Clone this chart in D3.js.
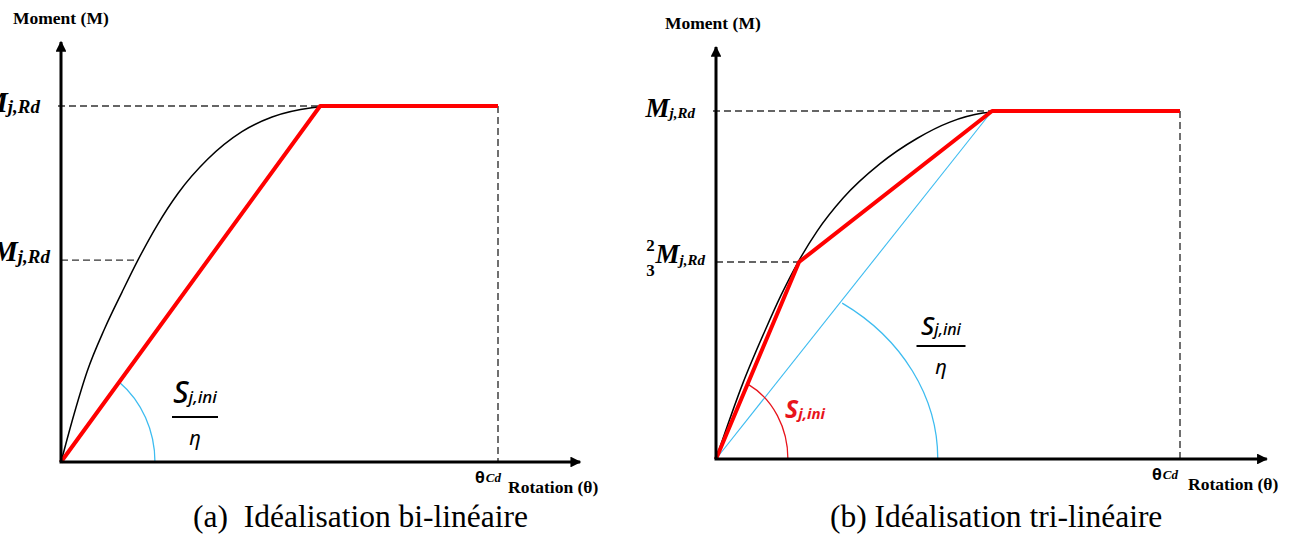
<!DOCTYPE html>
<html><head><meta charset="utf-8">
<script src="https://cdn.jsdelivr.net/npm/d3@7"></script>
<style>
html,body{margin:0;padding:0;background:#fff;}
svg{display:block;}
</style></head>
<body>
<svg id="chart" width="1300" height="536"></svg>
<script>
// ---------- data (normalised: rotation / θCd, moment / Mj,Rd) ----------
const mjrd = 1;
const thetaCd = 1;
const leftLevel23 = 0.567;
const rightLevel23 = 0.566;

const leftCurveX = [0, 0.03, 0.06, 0.10, 0.14, 0.176, 0.22, 0.268, 0.336, 0.414, 0.483, 0.574, 0.627];
const leftCurveM = [0, 0.135, 0.255, 0.375, 0.478, 0.567, 0.665, 0.755, 0.851, 0.928, 0.969, 0.995, 1.0];
const leftIdeal = [[0,0],[0.593,1],[1,1]];

const rightCurveX = [0, 0.058, 0.106, 0.14, 0.177, 0.218, 0.274, 0.353, 0.433, 0.504, 0.575, 0.634];
const rightCurveM = [0, 0.218, 0.37, 0.47, 0.566, 0.655, 0.75, 0.848, 0.921, 0.968, 0.994, 1.0];
const rightIdeal = [[0,0],[0.179,0.566],[0.595,1],[1,1]];
const rightSecant = [[0,0],[0.595,1]];

// angle arcs: start point on the line, end on the rotation axis
const leftArcs = [{start:[0.133,0.225], end:0.215, color:"#3dbcf0"}];
const rightArcs = [{start:[0.071,0.213], end:0.155, color:"#e8141c"},
                   {start:[0.272,0.448], end:0.478, color:"#3dbcf0"}];

const yTickLabels = ["M", "j,Rd"];
const captions = ["(a)  Idéalisation bi-linéaire", "(b) Idéalisation tri-linéaire"];

// ---------- drawing ----------
const svg = d3.select("#chart");
const serif = "Liberation Serif, Times New Roman, serif";
const sans = "Noto Sans, Open Sans, sans-serif";
const zip = (xs, ms) => xs.map((v, i) => [v, ms[i]]);

const panels = [
  {x: d3.scaleLinear().domain([0,1]).range([61,498]), y: d3.scaleLinear().domain([0,1]).range([462,106]),
   xMax:1.188, yMax:1.18, curve:zip(leftCurveX,leftCurveM), ideal:leftIdeal, secant:null, level23:leftLevel23,
   dash23End:0.175, dashTopEnd:0.593, arcs:leftArcs, caption:captions[0], capX:193,
   momentX:13, momentY:24, labelEnd:40, label23End:50, mSize:29, subSize:19, topDy:6,
   frac:{x:195,yn:403,yl:417,yd:445,w:46,s:30,sub:17},
   redS:null, thetaX:475, rotX:508},
  {x: d3.scaleLinear().domain([0,1]).range([716,1180]), y: d3.scaleLinear().domain([0,1]).range([459,111]),
   xMax:1.187, yMax:1.184, curve:zip(rightCurveX,rightCurveM), ideal:rightIdeal, secant:rightSecant, level23:rightLevel23,
   dash23End:0.179, dashTopEnd:0.595, arcs:rightArcs, caption:captions[1], capX:830,
   momentX:665, momentY:29, labelEnd:695, label23End:705, mSize:27, subSize:15, topDy:6,
   frac:{x:941,yn:335,yl:346,yd:374,w:49,s:26,sub:16},
   redS:{x:785,y:418}, thetaX:1152, rotX:1188}
];

const defs = svg.append("defs");
defs.append("marker").attr("id","arrow").attr("viewBox","0 0 10 10").attr("refX",9).attr("refY",5)
  .attr("markerWidth",4.2).attr("markerHeight",3.6).attr("markerUnits","strokeWidth").attr("orient","auto")
  .append("path").attr("d","M0,0 L10,5 L0,10 Z").attr("fill","#000");

panels.forEach(p => {
  const g = svg.append("g");
  const x = p.x, y = p.y;
  const line = d3.line().x(d => x(d[0])).y(d => y(d[1]));

  // dashed guides
  const dash = g.append("g").attr("stroke","#333").attr("stroke-width",1.4).attr("stroke-dasharray","7,4").attr("fill","none");
  dash.append("line").attr("x1",x(0)-3).attr("x2",x(p.dashTopEnd)).attr("y1",y(mjrd)).attr("y2",y(mjrd));
  dash.append("line").attr("x1",x(0)).attr("x2",x(p.dash23End)).attr("y1",y(p.level23)).attr("y2",y(p.level23));
  dash.append("line").attr("x1",x(thetaCd)).attr("x2",x(thetaCd)).attr("y1",y(mjrd)).attr("y2",y(0));

  // secant (blue)
  if (p.secant) g.append("path").attr("d",line(p.secant)).attr("fill","none").attr("stroke","#3dbcf0").attr("stroke-width",1.1);

  // arcs
  p.arcs.forEach(a => {
    const ox = x(0), oy = y(0);
    const sx = x(a.start[0]), sy = y(a.start[1]);
    const ex = x(a.end), ey = y(0);
    const rx = ex - ox;
    const dx = sx - ox, dy = oy - sy;
    const ry = dy / Math.sqrt(Math.max(0.01, 1 - (dx/rx)*(dx/rx)));
    g.append("path").attr("d",`M${sx},${sy} A${rx},${ry} 0 0 1 ${ex},${ey}`)
      .attr("fill","none").attr("stroke",a.color).attr("stroke-width",1.3);
  });

  // actual curve
  g.append("path").attr("d",d3.line().x(d => x(d[0])).y(d => y(d[1])).curve(d3.curveMonotoneX)(p.curve))
    .attr("fill","none").attr("stroke","#000").attr("stroke-width",1.5);
  // idealisation
  g.append("path").attr("d",line(p.ideal)).attr("fill","none")
    .attr("stroke","#f00").attr("stroke-width",4).attr("stroke-linejoin","round");

  // axes
  g.append("line").attr("x1",x(0)).attr("y1",y(0)).attr("x2",x(0)).attr("y2",y(p.yMax))
    .attr("stroke","#000").attr("stroke-width",3).attr("marker-end","url(#arrow)");
  g.append("line").attr("x1",x(0)-1.5).attr("y1",y(0)).attr("x2",x(p.xMax)).attr("y2",y(0))
    .attr("stroke","#000").attr("stroke-width",3).attr("marker-end","url(#arrow)");

  // axis titles
  g.append("text").attr("x",p.momentX).attr("y",p.momentY).attr("font-family",serif).attr("font-weight","bold")
    .attr("font-size",17.5).text("Moment (M)");
  g.append("text").attr("x",p.rotX).attr("y",y(0)+31).attr("font-family",serif).attr("font-weight","bold")
    .attr("font-size",17.5).text("Rotation (θ)");
  const th = g.append("text").attr("x",p.thetaX).attr("y",y(0)+21).attr("font-family",sans).attr("font-weight","bold").attr("font-size",16);
  th.append("tspan").text("θ");
  th.append("tspan").attr("font-family",serif).attr("font-style","italic").attr("font-size",13).attr("dx",1).attr("dy",-1).text("Cd");

  // y tick labels
  const lab = g.append("text").attr("x",p.labelEnd).attr("y",y(mjrd)+p.topDy).attr("text-anchor","end")
    .attr("font-family",serif).attr("font-style","italic").attr("font-weight","bold");
  lab.append("tspan").attr("font-size",p.mSize).text(yTickLabels[0]);
  lab.append("tspan").attr("font-size",p.subSize).attr("dy",1).text(yTickLabels[1]);

  const lab2 = g.append("text").attr("x",p.label23End).attr("y",y(p.level23)+1).attr("text-anchor","end")
    .attr("font-family",serif).attr("font-style","italic").attr("font-weight","bold");
  lab2.append("tspan").attr("font-size",p.mSize).text(yTickLabels[0]);
  lab2.append("tspan").attr("font-size",p.subSize).attr("dy",2).text(yTickLabels[1]);
  const bb = lab2.node().getBBox();
  g.append("text").attr("x",bb.x-4).attr("y",y(p.level23)-11).attr("text-anchor","middle")
    .attr("font-family",serif).attr("font-weight","bold").attr("font-size",17).text("2");
  g.append("text").attr("x",bb.x-4).attr("y",y(p.level23)+14).attr("text-anchor","middle")
    .attr("font-family",serif).attr("font-weight","bold").attr("font-size",17).text("3");

  // stiffness fraction
  const f = p.frac;
  const num = g.append("text").attr("x",f.x).attr("y",f.yn).attr("text-anchor","middle")
    .attr("font-family",sans).attr("font-style","italic").attr("font-weight",500);
  num.append("tspan").attr("font-size",f.s).text("S");
  num.append("tspan").attr("font-size",f.sub).attr("dy",0).text("j,ini");
  g.append("line").attr("x1",f.x-f.w/2).attr("x2",f.x+f.w/2).attr("y1",f.yl).attr("y2",f.yl).attr("stroke","#000").attr("stroke-width",2);
  g.append("text").attr("x",f.x).attr("y",f.yd).attr("text-anchor","middle")
    .attr("font-family",sans).attr("font-style","italic").attr("font-size",20).text("η");

  if (p.redS) {
    const rs = g.append("text").attr("x",p.redS.x).attr("y",p.redS.y).attr("fill","#e8141c")
      .attr("font-family",sans).attr("font-style","italic").attr("font-weight","bold");
    rs.append("tspan").attr("font-size",25).text("S");
    rs.append("tspan").attr("font-size",15).attr("dy",1).text("j,ini");
  }

  // caption
  g.append("text").attr("x",p.capX).attr("y",527).attr("font-family",serif).attr("font-size",31.5)
    .attr("xml:space","preserve").style("white-space","pre").text(p.caption);
});
</script>
</body></html>
